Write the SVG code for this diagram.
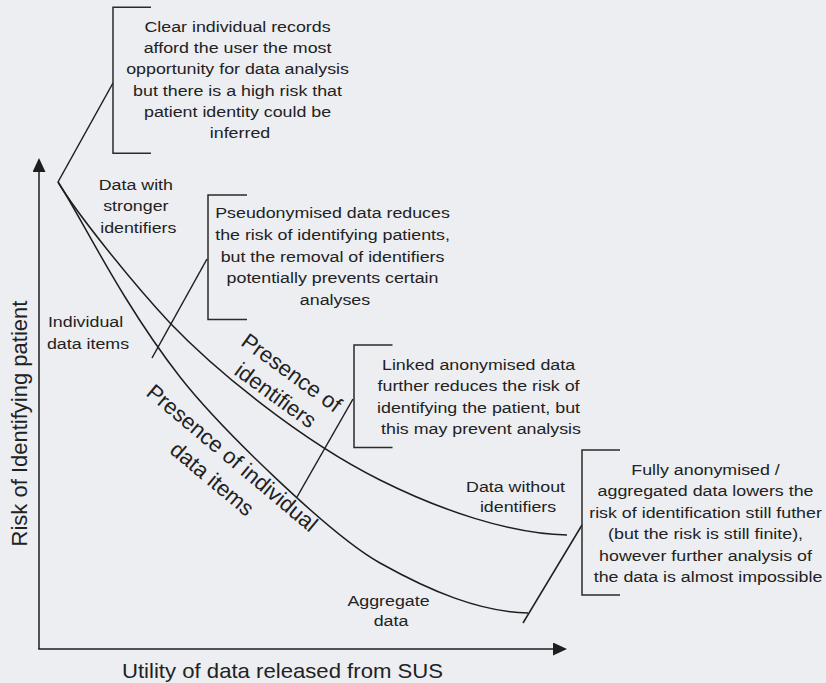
<svg xmlns="http://www.w3.org/2000/svg" width="826" height="683" viewBox="0 0 826 683">
<defs>
<style>
.t{font-family:"Liberation Sans",Arial,sans-serif;font-size:15.5px;fill:#222;text-anchor:middle}
.r{font-family:"Liberation Sans",Arial,sans-serif;font-size:22px;fill:#222;text-anchor:middle}
.ax{font-family:"Liberation Sans",Arial,sans-serif;fill:#222;text-anchor:middle}
.ln{fill:none;stroke:#1e1e1e;stroke-width:1.5}
.br{fill:none;stroke:#2a2a2a;stroke-width:1.5}
</style>
<marker id="arr" markerUnits="userSpaceOnUse" markerWidth="14" markerHeight="13" refX="0" refY="6.5" orient="auto">
<path d="M0,0 L14,6.5 L0,13 z" fill="#1e1e1e"/>
</marker>
</defs>
<rect width="826" height="683" fill="#eceef2"/>

<g id="axes">
<line class="ln" x1="39" y1="649" x2="39" y2="172" marker-end="url(#arr)"/>
<line class="ln" x1="38.25" y1="649" x2="553" y2="649" marker-end="url(#arr)"/>
<text class="ax" font-size="22" transform="translate(27,423.5) rotate(-90)">Risk of Identifying patient</text>
<g transform="translate(282.5,0) scale(1.08,1)"><text class="ax" font-size="20.5" x="0" y="678">Utility of data released from SUS</text></g>
</g>

<g id="connectors">
<path id="curve-identifiers" class="ln" d="M58,182 C75,211 130,280 170,323 C215,370 300,440 380,480 C440,510 510,534 567,535"/>
<path id="curve-items" class="ln" d="M58,182 C80,215 120,300 180,377 C220,428 330,535 380,563 C430,591 480,612 528,613"/>
<line class="ln" x1="113" y1="83" x2="58" y2="182"/>
<line class="ln" x1="207" y1="259" x2="152" y2="358"/>
<line class="ln" x1="353" y1="399" x2="297" y2="497"/>
<line class="ln" x1="582" y1="525" x2="523" y2="623"/>
</g>

<g id="callout-clear">
<path class="br" d="M151,7.3 H113 V153.3 H151"/>
<g transform="translate(240,0) scale(1.15,1)"><text class="t">
<tspan x="0" y="32.3">Clear individual records</tspan>
<tspan x="0" y="53.4">afford the user the most</tspan>
<tspan x="0" y="74.5">opportunity for data analysis</tspan>
<tspan x="0" y="95.6">but there is a high risk that</tspan>
<tspan x="0" y="116.7">patient identity could be</tspan>
<tspan x="0" y="137.8">inferred</tspan>
</text></g>
</g>

<g id="label-stronger">
<g transform="translate(138.3,0) scale(1.15,1)"><text class="t">
<tspan x="0" y="190">Data with</tspan>
<tspan x="0" y="211.5">stronger</tspan>
<tspan x="0" y="232.7">identifiers</tspan>
</text></g>
</g>

<g id="callout-pseudonymised">
<path class="br" d="M247,195 H208 V319.5 H247"/>
<g transform="translate(335,0) scale(1.15,1)"><text class="t">
<tspan x="0" y="218.5">Pseudonymised data reduces</tspan>
<tspan x="0" y="240">the risk of identifying patients,</tspan>
<tspan x="0" y="261.7">but the removal of identifiers</tspan>
<tspan x="0" y="283.3">potentially prevents certain</tspan>
<tspan x="0" y="304.7">analyses</tspan>
</text></g>
</g>

<g id="label-individual">
<g transform="translate(88,0) scale(1.15,1)"><text class="t">
<tspan x="0" y="327.3">Individual</tspan>
<tspan x="0" y="349">data items</tspan>
</text></g>
</g>

<g id="label-presence-identifiers">
<text class="r" transform="translate(287.2,378.9) rotate(36)">Presence of</text>
<text class="r" transform="translate(271.2,401.4) rotate(36)">identifiers</text>
</g>

<g id="label-presence-items">
<text class="r" transform="translate(227.4,463.6) rotate(40)">Presence of individual</text>
<text class="r" transform="translate(207.4,484.6) rotate(40)">data items</text>
</g>

<g id="callout-linked">
<path class="br" d="M392.5,345 H354 V447.5 H392.5"/>
<g transform="translate(481,0) scale(1.15,1)"><text class="t">
<tspan x="0" y="370">Linked anonymised data</tspan>
<tspan x="0" y="391.5">further reduces the risk of</tspan>
<tspan x="0" y="412.7">identifying the patient, but</tspan>
<tspan x="0" y="433.7">this may prevent analysis</tspan>
</text></g>
</g>

<g id="label-without">
<g transform="translate(518,0) scale(1.15,1)"><text class="t">
<tspan x="0" y="491.7">Data without</tspan>
<tspan x="0" y="512">identifiers</tspan>
</text></g>
</g>

<g id="callout-fully">
<path class="br" d="M620,450 H582 V595 H620"/>
<g transform="translate(708,0) scale(1.15,1)"><text class="t">
<tspan x="0" y="475">Fully anonymised /</tspan>
<tspan x="0" y="496.5">aggregated data lowers the</tspan>
<tspan x="0" y="518">risk of identification still futher</tspan>
<tspan x="0" y="539.5">(but the risk is still finite),</tspan>
<tspan x="0" y="561">however further analysis of</tspan>
<tspan x="0" y="582.5">the data is almost impossible</tspan>
</text></g>
</g>

<g id="label-aggregate">
<g transform="translate(391,0) scale(1.15,1)"><text class="t">
<tspan x="0" y="606">Aggregate</tspan>
<tspan x="0" y="626">data</tspan>
</text></g>
</g>
</svg>
